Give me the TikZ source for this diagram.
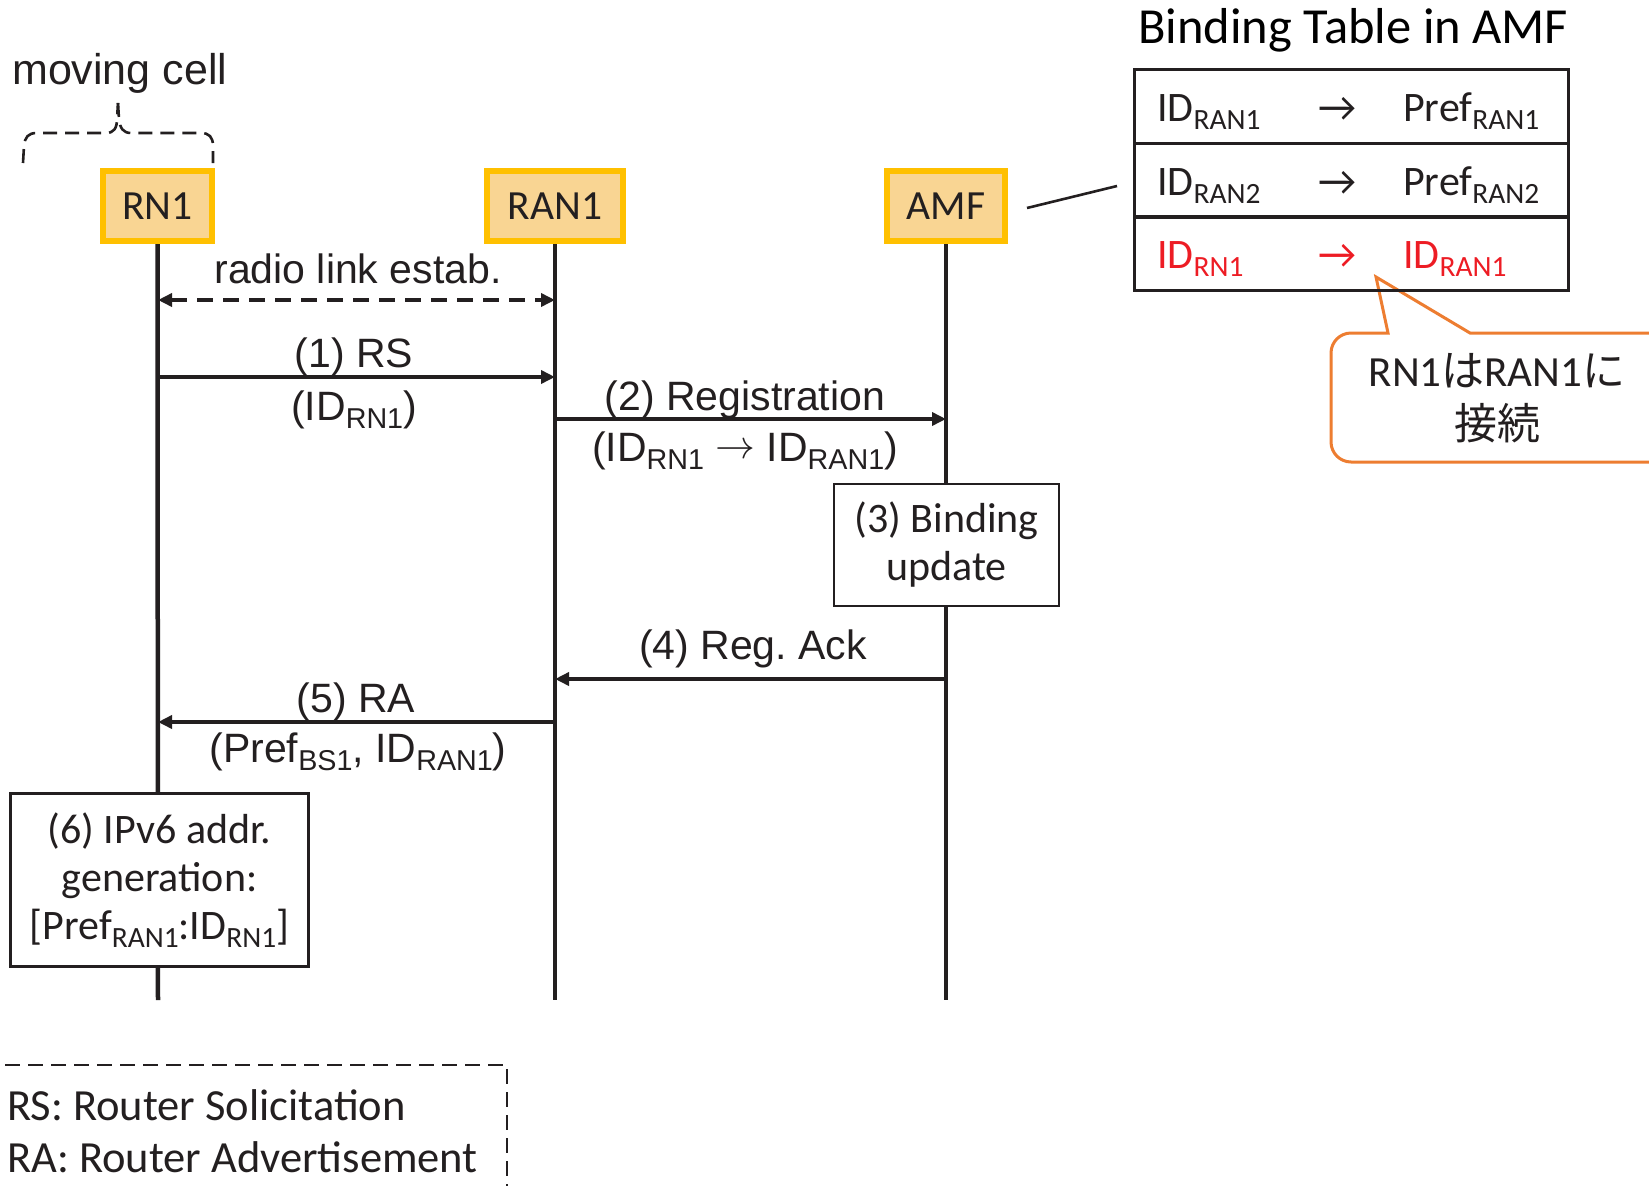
\documentclass[tikz,border=0pt]{standalone}
\usepackage{fontspec}
\setmainfont{Carlito}
\newfontfamily\arialf{Liberation Sans}
\newfontfamily\cjk{Noto Sans CJK JP}
\usetikzlibrary{arrows.meta}

\definecolor{hdrfill}{RGB}{249,213,147}
\definecolor{hdrline}{RGB}{255,192,0}
\definecolor{tabred}{RGB}{237,28,36}
\definecolor{callorange}{RGB}{237,125,49}
\definecolor{ink}{RGB}{35,31,32}

\newcommand\setfs[1]{\fontsize{#1}{#1}\selectfont}
\newcommand\subtx[1]{\raisebox{-0.2em}{\scalebox{0.7}{#1}}}
\newcommand\longto{\raisebox{0.05em}{\scalebox{1.6}{$\rightarrow$}}}

\tikzset{
  hdr/.style={draw=hdrline, fill=hdrfill, line width=6pt, inner sep=0pt,
    minimum height=70pt, font=\setfs{41.5}, text=ink},
  life/.style={draw=ink, line width=4.5pt},
  msg/.style={draw=ink, line width=4pt, -{Triangle[length=14pt,width=13pt]}},
  linkmsg/.style={draw=ink, line width=4pt, dash pattern=on 16pt off 10pt,
    {Triangle[length=14pt,width=13pt]}-{Triangle[length=14pt,width=13pt]}},
  lbl/.style={font=\arialf\setfs{41}, text=ink, anchor=base, inner sep=0pt},
  procbox/.style={draw=ink, fill=white, line width=2.6pt, inner sep=0pt,
    align=center, text=ink},
  tabrow/.style={draw=ink, line width=3pt, minimum width=434pt,
    minimum height=74pt, inner sep=0pt},
  tabtxt/.style={font=\setfs{42}, anchor=base west, inner sep=0pt, text=ink},
  cjktxt/.style={font=\setfs{43}, anchor=base, inner sep=0pt, text=ink},
  legdash/.style={draw=ink, line width=2.6pt, dash pattern=on 15pt off 8pt},
}

\begin{document}
\begin{tikzpicture}[x=1pt, y=-1pt]
\useasboundingbox (0,0) rectangle (1649,1194);
\clip (0,0) rectangle (1649,1194);

% ---- lifeline heads ----
\node[hdr, minimum width=109pt] (rn1)  at (157.5,206) {RN1};
\node[hdr, minimum width=136pt] (ran1) at (555,206)   {RAN1};
\node[hdr, minimum width=118pt] (amf)  at (946,206)   {AMF};

\coordinate (rn1end)  at (158,1000);
\coordinate (ran1end) at (555,1000);
\coordinate (amfend)  at (946,1000);

\draw[life] (rn1.south)  -- (rn1end);
\draw[life] (ran1.south) -- (ran1end);
\draw[life] (amf.south)  -- (amfend);

% ---- moving cell brace ----
\node[font=\arialf\setfs{43}, anchor=base west, inner sep=0pt, text=ink] (mcell) at (12,84) {moving cell};
\draw[draw=ink, line width=2.6pt, dash pattern=on 14pt off 8pt]
  (23,163) -- (24,146) .. controls (25,137) and (28,133) .. (37,133)
  -- (106,133) .. controls (114,133) and (117,128) .. (117,119) -- (118,103);
\draw[draw=ink, line width=2.6pt, dash pattern=on 14pt off 8pt]
  (118,103) -- (119,119) .. controls (120,128) and (123,133) .. (131,133)
  -- (201,133) .. controls (209,133) and (213,137) .. (213,146) -- (213,163);

% ---- message end points on the lifelines ----
\coordinate (l0a) at (158,300); \coordinate (l0b) at (555,300);
\coordinate (m1a) at (158,377); \coordinate (m1b) at (555,377);
\coordinate (m2a) at (555,419); \coordinate (m2b) at (946,419);
\coordinate (m4a) at (946,679); \coordinate (m4b) at (555,679);
\coordinate (m5a) at (555,722); \coordinate (m5b) at (158,722);

\draw[linkmsg] (l0a) -- (l0b);
\node[lbl] (t0) at (358,283) {radio link estab.};

\draw[msg] (m1a) -- (m1b);
\node[lbl] (t1a) at (354,367) {(1) RS};
\node[lbl] (t1b) at (354,420) {(ID\subtx{RN1})};

\draw[msg] (m2a) -- (m2b);
\node[lbl] (t2a) at (745,410) {(2) Registration};
\node[lbl] (t2b) at (745,461) {(ID\subtx{RN1} \longto{} ID\subtx{RAN1})};

\node[procbox, minimum width=225pt, minimum height=122pt,
      font=\fontsize{42}{48}\selectfont] (bind) at (946.5,545) {(3) Binding\\update};

\draw[msg] (m4a) -- (m4b);
\node[lbl] (t4) at (753,659) {(4) Reg.\ Ack};

\draw[msg] (m5a) -- (m5b);
\node[lbl] (t5a) at (356,712) {(5) RA};
\node[lbl] (t5b) at (358,762) {(Pref\subtx{BS1}, ID\subtx{RAN1})};

\node[procbox, minimum width=298pt, minimum height=173pt,
      font=\fontsize{42}{48}\selectfont] (addr) at (159.5,880)
      {(6) IPv6 addr.\\generation:\\{}[Pref\subtx{RAN1}:ID\subtx{RN1}]};

% ---- callout ----
\coordinate (tip) at (1376,277);
\draw[draw=callorange, fill=white, line width=3pt, line join=miter]
  (tip) -- (1470,333) -- (1700,333) -- (1700,462) -- (1351,462)
  .. controls (1340,462) and (1331,453) .. (1331,442) -- (1331,353)
  .. controls (1331,342) and (1340,333) .. (1351,333) -- (1388,333) -- cycle;
\node[cjktxt] (ct1) at (1497,386) {RN1{\cjk は}RAN1{\cjk に}};
\node[cjktxt] (ct2) at (1497,439) {{\cjk 接続}};

% ---- binding table ----
\node[font=\setfs{50.5}, anchor=base west, inner sep=0pt, text=black] (ttl) at (1138,43) {Binding Table in AMF};
\node[tabrow] (row1) at (1351,106)   {};
\node[tabrow] (row2) at (1351,180)   {};
\node[tabrow] (row3) at (1351,253.5) {};

\node[tabtxt] (k1) at (1157,121) {ID\subtx{RAN1}};
\node[tabtxt] (a1) at (1318,121) {→};
\node[tabtxt] (v1) at (1403,121) {Pref\subtx{RAN1}};
\node[tabtxt] (k2) at (1157,195) {ID\subtx{RAN2}};
\node[tabtxt] (a2) at (1318,195) {→};
\node[tabtxt] (v2) at (1403,195) {Pref\subtx{RAN2}};
\node[tabtxt, text=tabred] (k3) at (1157,268) {ID\subtx{RN1}};
\node[tabtxt, text=tabred] (a3) at (1318,268) {→};
\node[tabtxt, text=tabred] (v3) at (1403,268) {ID\subtx{RAN1}};

\coordinate (amftie) at (1027,208);
\coordinate (tbltie) at (1117,186);
\draw[draw=ink, line width=2.6pt] (amftie) -- (tbltie);

% ---- legend ----
\draw[legdash] (5,1065) -- (507,1065) -- (507,1186);
\node[font=\setfs{44.5}, anchor=base west, inner sep=0pt, text=ink] (lg1) at (7,1120) {RS: Router Solicitation};
\node[font=\setfs{44.5}, anchor=base west, inner sep=0pt, text=ink] (lg2) at (7,1172) {RA: Router Advertisement};
\end{tikzpicture}
\end{document}
